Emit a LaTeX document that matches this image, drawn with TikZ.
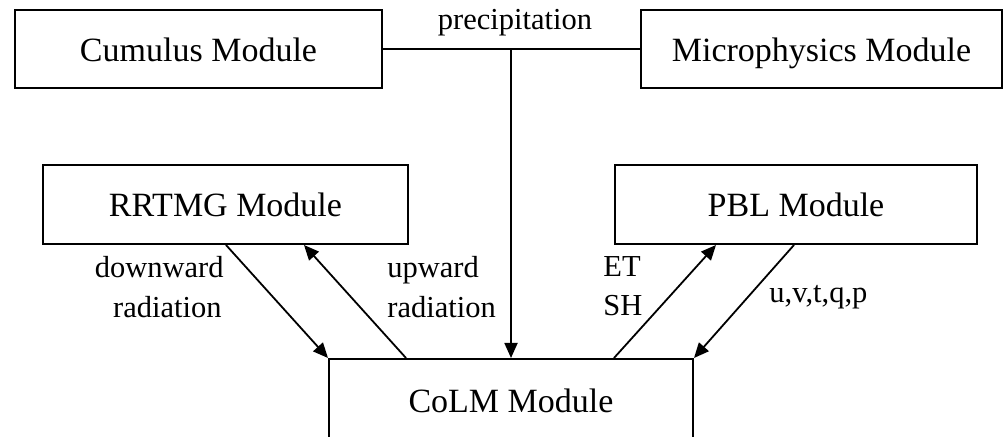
\documentclass[tikz,border=0pt]{standalone}
\usepackage{fontspec}
\setmainfont{Liberation Serif}
\usetikzlibrary{arrows.meta,calc}

\tikzset{
  module/.style={draw, line width=1pt, inner sep=0pt, text height=12.5pt, text depth=0pt,
    font=\fontsize{17}{20}\selectfont},
  flow/.style={line width=0.9pt, -{Triangle[length=7.5pt,width=6.5pt]}},
  link/.style={line width=0.9pt},
  lbl/.style={inner sep=0pt, font=\fontsize{15.25}{18}\selectfont}
}

\begin{document}
\begin{tikzpicture}[x=0.5pt,y=-0.5pt]
  \useasboundingbox (0,0) rectangle (1007,437);

  % modules
  \node[module, minimum width=183.5pt, minimum height=39pt] (cumulus) at (198.5,49) {Cumulus Module};
  \node[module, minimum width=180.5pt, minimum height=39pt] (micro) at (821.5,49) {Microphysics Module};
  \node[module, minimum width=182.5pt, minimum height=39.5pt] (rrtmg) at (225.5,204.5) {RRTMG Module};
  \node[module, minimum width=181pt, minimum height=39.5pt] (pbl) at (796,204.5) {PBL Module};
  \node[module, minimum width=182pt, minimum height=41pt] (colm) at (511,400) {CoLM Module};

  % precipitation from both cloud schemes into the land model
  \coordinate (join) at (colm.north |- cumulus.east);
  \draw[link] (cumulus.east) -- (micro.west);
  \draw[flow] (join) -- (colm.north);

  % radiation exchange
  \draw[flow] ([xshift=92pt]rrtmg.south west) -- (colm.north west);
  \draw[flow] ([xshift=39pt]colm.north west) -- ([xshift=131pt]rrtmg.south west);

  % boundary layer exchange
  \draw[flow] ([xshift=143pt]colm.north west) -- ([xshift=51pt]pbl.south west);
  \draw[flow] ([xshift=90pt]pbl.south west) -- (colm.north east);

  % labels
  \node[lbl, anchor=base] (tprec) at (515,30) {precipitation};
  \node[lbl, anchor=base east] (tdown1) at (224,278) {downward};
  \node[lbl, anchor=base east] (tdown2) at (222,318) {radiation};
  \node[lbl, anchor=base west] (tup1) at (387,278) {upward};
  \node[lbl, anchor=base west] (tup2) at (387,318) {radiation};
  \node[lbl, anchor=base west] (tet) at (603,277) {ET};
  \node[lbl, anchor=base west] (tsh) at (603,316) {SH};
  \node[lbl, anchor=base west] (tvars) at (769,303) {u,v,t,q,p};
\end{tikzpicture}
\end{document}
